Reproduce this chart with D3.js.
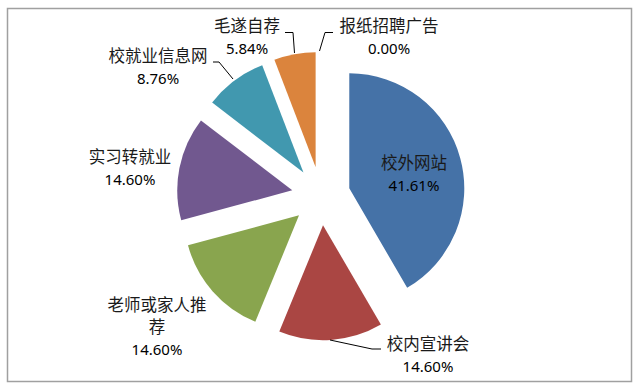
<!DOCTYPE html>
<html>
<head>
<meta charset="utf-8">
<script src="https://cdn.jsdelivr.net/npm/d3@7"></script>
<style>
  body { margin: 0; background: #fff; }
  svg { display: block; }
</style>
</head>
<body>
<script>
// data
const categories = ['校外网站', '校内宣讲会', '老师或家人推荐', '实习转就业', '校就业信息网', '毛遂自荐', '报纸招聘广告'];
const values = [41.61, 14.60, 14.60, 14.60, 8.76, 5.84, 0.00];
const colors = ['#4572A7', '#AA4643', '#89A54E', '#71588F', '#4198AF', '#DB843D', '#7F9EC9'];

// label lines (name split for wrapping) and where they sit
const labelLines = [['校外网站'], ['校内宣讲会'], ['老师或家人推', '荐'], ['实习转就业'], ['校就业信息网'], ['毛遂自荐'], ['报纸招聘广告']];
const labelPos = [[414, 163], [428, 344], [157, 305], [130, 157], [158, 56], [247, 26], [389, 26]];
const leaders = [
    null,
    [[381, 349], [372, 349], [330, 340]],
    null,
    null,
    [[213, 62], [219, 62], [233, 79]],
    [[285, 32.5], [293, 32.5], [294.5, 53]],
    [[333, 32.5], [325, 32.5], [319.5, 51]]
];

const width = 640, height = 390;
const cx = 321, cy = 196, radius = 115, explode = 29.3;

const svg = d3.select('body').append('svg')
    .attr('width', width)
    .attr('height', height);

svg.append('rect')
    .attr('x', 7.5).attr('y', 8.5)
    .attr('width', 624).attr('height', 373)
    .attr('fill', '#fff')
    .attr('stroke', '#a0a0a0')
    .attr('stroke-width', 1.5);

const pie = d3.pie().sort(null).value(d => d)(values);
const arc = d3.arc().innerRadius(0).outerRadius(radius);

const g = svg.append('g').attr('transform', `translate(${cx},${cy})`);

g.selectAll('path')
    .data(pie)
    .enter().append('path')
    .attr('d', arc)
    .attr('fill', (d, i) => colors[i])
    .attr('transform', d => {
        const a = (d.startAngle + d.endAngle) / 2;
        return `translate(${explode * Math.sin(a)},${-explode * Math.cos(a)})`;
    });

// leader lines
svg.append('g').selectAll('polyline')
    .data(leaders.filter(l => l))
    .enter().append('polyline')
    .attr('points', d => d.map(p => p.join(',')).join(' '))
    .attr('fill', 'none')
    .attr('stroke', '#000')
    .attr('stroke-width', 1);

// labels
const cjkSize = 16.5, numSize = 15, lineGap = 22.5;
const labels = svg.append('g');
categories.forEach((name, i) => {
    const [x, y] = labelPos[i];
    const lines = labelLines[i];
    lines.forEach((t, j) => {
        labels.append('text')
            .attr('x', x)
            .attr('y', y + j * lineGap + cjkSize * 0.36)
            .attr('text-anchor', 'middle')
            .style('font-family', '"Noto Sans CJK SC", sans-serif')
            .style('font-size', cjkSize + 'px')
            .style('fill', '#1a1a1a')
            .text(t);
    });
    labels.append('text')
        .attr('x', x)
        .attr('y', y + lines.length * lineGap + numSize * 0.36)
        .attr('text-anchor', 'middle')
        .style('font-family', '"Noto Sans", sans-serif')
        .style('font-size', numSize + 'px')
        .style('fill', '#000')
        .text(values[i].toFixed(2) + '%');
});
</script>
</body>
</html>
